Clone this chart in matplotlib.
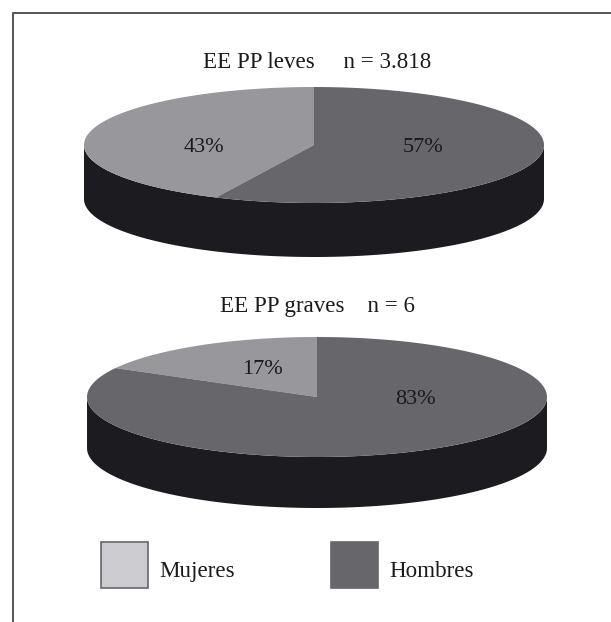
import numpy as np
import matplotlib
matplotlib.use('Agg')
from matplotlib import pyplot as plt
from matplotlib.patches import Polygon, Rectangle

plt.rcParams['font.family'] = ['Liberation Serif', 'DejaVu Serif']

W, H = 611, 622

categories = ['Mujeres', 'Hombres']
leves = [43, 57]
graves = [17, 83]
titles = ['EE PP leves     n = 3.818', 'EE PP graves    n = 6']

MUJERES = '#98989c'
HOMBRES = '#67666b'
SIDE = '#1c1c20'
INK = '#1a1a1a'
LEGEND_COLORS = ['#cbcbd0', '#67666b']


def ellipse_arc(cx, cy, rx, ry, a0, a1):
    # angles in degrees, clockwise from 12 o'clock
    t = np.radians(np.linspace(a0, a1, 200))
    return cx + rx*np.sin(t), cy - ry*np.cos(t)


def pie3d(ax, values, cx, cy, rx, ry, depth):
    # the wall first, then the wedges on top of it
    x, y = ellipse_arc(cx, cy, rx, ry, 90, 270)
    wall = list(zip(x, y)) + list(zip(x[::-1], y[::-1] + depth))
    ax.add_patch(Polygon(wall, closed=True, fc=SIDE, ec='none'))
    # Mujeres ends at 12 o'clock, Hombres starts there
    x, y = ellipse_arc(cx, cy, rx, ry, -values[0]*3.6, 0)
    ax.add_patch(Polygon([(cx, cy)] + list(zip(x, y)), closed=True, fc=MUJERES, ec='none'))
    x, y = ellipse_arc(cx, cy, rx, ry, 0, values[1]*3.6)
    ax.add_patch(Polygon([(cx, cy)] + list(zip(x, y)), closed=True, fc=HOMBRES, ec='none'))


def label(ax, x, y, s, size=16, ha='center'):
    ax.text(x, y, s, ha=ha, va='baseline', fontsize=size, color=INK)


fig = plt.figure(figsize=(W/100, H/100), dpi=100)
ax = fig.add_axes([0, 0, 1, 1])
ax.set_xlim(0, W)
ax.set_ylim(H, 0)
ax.axis('off')

# frame: only the top and left rules
ax.plot([12.5, 12.5, W], [H, 13, 13], color='#555558', lw=1.4)

pie3d(ax, leves, 314, 145, 230, 58, 54)
pie3d(ax, graves, 317, 397, 230, 60, 51)

label(ax, 317, 68, titles[0], 16.6)
label(ax, 317, 312, titles[1], 16.6)

label(ax, 204, 151.5, '%d%%' % leves[0])
label(ax, 423, 151.5, '%d%%' % leves[1])
label(ax, 262, 374, '%d%%' % graves[0])
label(ax, 415, 404, '%d%%' % graves[1])

# legend boxes
for i, name in enumerate(categories):
    x0 = [101, 331][i]
    ax.add_patch(Rectangle((x0, 542), 47, 46, fc=LEGEND_COLORS[i], ec='#67666b', lw=1.2))
    label(ax, x0 + 58, 577, name, 16.6, ha='left')

fig.savefig('out.png', dpi=100)
